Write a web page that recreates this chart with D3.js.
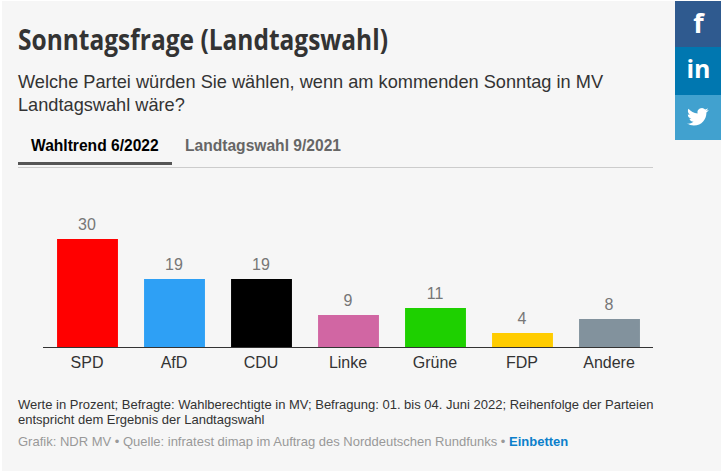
<!DOCTYPE html>
<html>
<head>
<meta charset="utf-8">
<script src="https://d3js.org/d3.v7.min.js"></script>
<style>
    html, body { margin: 0; padding: 0; background: #fff; overflow: hidden; }
    svg { display: block; }
    text { font-family: "Liberation Sans", Arial, sans-serif; }
    .domain { stroke: #333; stroke-width: 1.2px; }
    .tick text { font-size: 16px; fill: #333; }
</style>
</head>
<body>
<div id="chart"></div>
<script>
var parties = ["SPD", "AfD", "CDU", "Linke", "Grüne", "FDP", "Andere"];
var values = [30, 19, 19, 9, 11, 4, 8];
var colors = ["#ff0000", "#2ea0f5", "#000000", "#d166a3", "#1ed000", "#ffcc00", "#82929d"];

var tabs = ["Wahltrend 6/2022", "Landtagswahl 9/2021"];
var questionLines = [
    "Welche Partei würden Sie wählen, wenn am kommenden Sonntag in MV",
    "Landtagswahl wäre?"
];
var noteLines = [
    "Werte in Prozent; Befragte: Wahlberechtigte in MV; Befragung: 01. bis 04. Juni 2022; Reihenfolge der Parteien",
    "entspricht dem Ergebnis der Landtagswahl"
];
var twitterPath = "M23.953 4.57a10 10 0 01-2.825.775 4.958 4.958 0 002.163-2.723c-.951.555-2.005.959-3.127 1.184a4.92 4.92 0 00-8.384 4.482C7.69 8.095 4.067 6.13 1.64 3.162a4.822 4.822 0 00-.666 2.475c0 1.71.87 3.213 2.188 4.096a4.904 4.904 0 01-2.228-.616v.06a4.923 4.923 0 003.946 4.827 4.996 4.996 0 01-2.212.085 4.936 4.936 0 004.604 3.417 9.867 9.867 0 01-6.102 2.105c-.39 0-.779-.023-1.17-.067a13.995 13.995 0 007.557 2.209c9.053 0 13.998-7.496 13.998-13.985 0-.21 0-.42-.015-.63A9.935 9.935 0 0024 4.59z";

var svg = d3.select("#chart").append("svg")
    .attr("width", 721)
    .attr("height", 471);

// grey page area
svg.append("rect")
    .attr("x", 2).attr("y", 1)
    .attr("width", 719).attr("height", 470)
    .attr("fill", "#f6f6f6");

// header
svg.append("text")
    .attr("x", 18).attr("y", 50)
    .attr("textLength", 370)
    .attr("lengthAdjust", "spacingAndGlyphs")
    .style("font-family", "'Open Sans'")
    .style("font-size", "29px")
    .style("font-weight", "700")
    .style("fill", "#333")
    .text("Sonntagsfrage (Landtagswahl)");

svg.selectAll("text.question")
    .data(questionLines)
    .enter()
    .append("text")
    .classed("question", true)
    .attr("x", 18)
    .attr("y", function (d, i) { return 88 + i * 23; })
    .style("font-size", "18.2px")
    .style("fill", "#333")
    .text(function (d) { return d; });

// tabs
svg.selectAll("text.tab")
    .data(tabs)
    .enter()
    .append("text")
    .classed("tab", true)
    .attr("x", function (d, i) { return i === 0 ? 31 : 185; })
    .attr("y", 151)
    .style("font-size", "15.6px")
    .style("font-weight", "700")
    .style("fill", function (d, i) { return i === 0 ? "#000" : "#666"; })
    .text(function (d) { return d; });

svg.append("rect")
    .attr("x", 18).attr("y", 167)
    .attr("width", 635).attr("height", 1)
    .attr("fill", "#ccc");
svg.append("rect")
    .attr("x", 18).attr("y", 162)
    .attr("width", 154).attr("height", 3)
    .attr("fill", "#555");

// bars
var x = d3.scaleBand()
    .domain(parties)
    .range([44, 653])
    .paddingInner(0.3)
    .paddingOuter(0.15);
var y = d3.scaleLinear()
    .domain([0, 30])
    .range([347, 239]);

var data = parties.map(function (p, i) {
    return { party: p, value: values[i], color: colors[i] };
});

svg.selectAll("rect.bar")
    .data(data)
    .enter()
    .append("rect")
    .classed("bar", true)
    .attr("x", function (d) { return x(d.party); })
    .attr("y", function (d) { return Math.ceil(y(d.value)); })
    .attr("width", x.bandwidth())
    .attr("height", function (d) { return y(0) - Math.ceil(y(d.value)); })
    .attr("fill", function (d) { return d.color; });

svg.selectAll("text.value")
    .data(data)
    .enter()
    .append("text")
    .classed("value", true)
    .attr("x", function (d) { return x(d.party) + x.bandwidth() / 2 - 0.5; })
    .attr("y", function (d) { return Math.ceil(y(d.value)) - 9; })
    .attr("text-anchor", "middle")
    .style("font-size", "16px")
    .style("fill", "#777")
    .text(function (d) { return d.value; });

var xAxis = d3.axisBottom(x).tickSize(0).tickPadding(10);
var axisG = svg.append("g")
    .attr("transform", "translate(0,347)")
    .call(xAxis);
axisG.select(".domain").attr("d", "M43,0.5H653");
axisG.selectAll(".tick text").attr("dx", -0.5);

// notes
svg.selectAll("text.note")
    .data(noteLines)
    .enter()
    .append("text")
    .classed("note", true)
    .attr("x", 18)
    .attr("y", function (d, i) { return 409 + i * 15; })
    .style("font-size", "13px")
    .style("fill", "#333")
    .text(function (d) { return d; });

var credit = svg.append("text")
    .attr("x", 18).attr("y", 446)
    .style("font-size", "13px")
    .style("fill", "#999");
credit.append("tspan").text("Grafik: NDR MV • Quelle: infratest dimap im Auftrag des Norddeutschen Rundfunks • ");
credit.append("tspan")
    .style("font-weight", "700")
    .style("fill", "#0b7fcb")
    .text("Einbetten");

// social buttons
var social = svg.append("g");
social.append("rect").attr("x", 675).attr("y", 1).attr("width", 46).attr("height", 46).attr("fill", "#2f5a8f");
social.append("rect").attr("x", 675).attr("y", 47).attr("width", 46).attr("height", 48).attr("fill", "#0077b0");
social.append("rect").attr("x", 675).attr("y", 95).attr("width", 46).attr("height", 45).attr("fill", "#41a1cf");
social.append("text")
    .attr("x", 698.5).attr("y", 33)
    .attr("text-anchor", "middle")
    .style("font-family", "'Open Sans'")
    .style("font-size", "27px")
    .style("font-weight", "700")
    .style("fill", "#fff")
    .text("f");
social.append("text")
    .attr("x", 698.5).attr("y", 78)
    .attr("text-anchor", "middle")
    .style("font-family", "'Open Sans'")
    .style("font-size", "25px")
    .style("font-weight", "700")
    .style("fill", "#fff")
    .text("in");
social.append("path")
    .attr("d", twitterPath)
    .attr("transform", "translate(687,106) scale(0.9)")
    .attr("fill", "#fff");
</script>
</body>
</html>
